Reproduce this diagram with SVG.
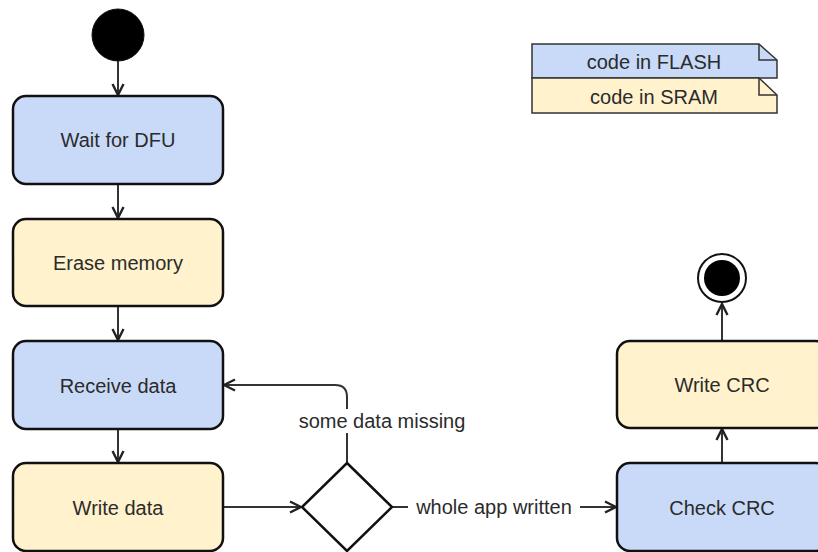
<svg xmlns="http://www.w3.org/2000/svg" width="818" height="552" viewBox="0 0 818 552">
  <style>
    .flash { fill: #c9daf8; stroke: #111; stroke-width: 2.5; }
    .sram { fill: #fff2cc; stroke: #111; stroke-width: 2.5; }
    .note-flash { fill: #c9daf8; stroke: #333; stroke-width: 1.5; }
    .note-sram { fill: #fff2cc; stroke: #333; stroke-width: 1.5; }
    .label { font-family: "Liberation Sans", Arial, sans-serif; font-size: 20px; fill: #2b2b2b; text-anchor: middle; }
    .edge { fill: none; stroke: #333; stroke-width: 2; }
    .bg { fill: #fff; }
  </style>
  <defs>
    <marker id="arrow" viewBox="0 0 14 14" refX="13" refY="7" markerWidth="14" markerHeight="14" markerUnits="userSpaceOnUse" orient="auto">
      <path d="M2,1.5 L13,7 L2,12.5" fill="none" stroke="#222" stroke-width="2.4"/>
    </marker>
  </defs>

  <rect width="818" height="552" fill="#fff"/>

  <!-- legend -->
  <g id="legend-flash">
    <path class="note-flash" d="M532,44 H759 L777,60 V78 H532 Z"/>
    <path d="M759,44 V60 H777" fill="none" stroke="#333" stroke-width="1.5"/>
    <text class="label" x="654" y="69">code in FLASH</text>
  </g>
  <g id="legend-sram">
    <path class="note-sram" d="M532,78 H759 L777,95 V113 H532 Z"/>
    <path d="M759,78 V95 H777" fill="none" stroke="#333" stroke-width="1.5"/>
    <text class="label" x="654" y="104">code in SRAM</text>
  </g>

  <!-- connectors -->
  <g id="connectors">
    <path class="edge" d="M118,61 V95" marker-end="url(#arrow)"/>
    <path class="edge" d="M118,184 V218" marker-end="url(#arrow)"/>
    <path class="edge" d="M118,306 V340" marker-end="url(#arrow)"/>
    <path class="edge" d="M118,429 V462" marker-end="url(#arrow)"/>
    <path class="edge" d="M223,507 H301" marker-end="url(#arrow)"/>
    <path class="edge" d="M347,463 V397 Q347,385 335,385 H224" marker-end="url(#arrow)"/>
    <path class="edge" d="M392,507 H616" marker-end="url(#arrow)"/>
    <path class="edge" d="M722,463 V429" marker-end="url(#arrow)"/>
    <path class="edge" d="M722,341 V304" marker-end="url(#arrow)"/>
    <rect class="bg" x="292" y="409" width="180" height="24"/>
    <text class="label" x="382" y="428">some data missing</text>
    <rect class="bg" x="408" y="495" width="172" height="24"/>
    <text class="label" x="494" y="514">whole app written</text>
  </g>

  <!-- nodes -->
  <g id="start">
    <circle cx="118" cy="35" r="26" fill="#000" stroke="#111" stroke-width="1"/>
  </g>
  <g id="wait-dfu">
    <rect class="flash" x="13" y="96" width="210" height="88" rx="13"/>
    <text class="label" x="118" y="147">Wait for DFU</text>
  </g>
  <g id="erase-memory">
    <rect class="sram" x="13" y="219" width="210" height="87" rx="13"/>
    <text class="label" x="118" y="270">Erase memory</text>
  </g>
  <g id="receive-data">
    <rect class="flash" x="13" y="341" width="210" height="88" rx="13"/>
    <text class="label" x="118" y="393">Receive data</text>
  </g>
  <g id="write-data">
    <rect class="sram" x="13" y="463" width="210" height="88" rx="13"/>
    <text class="label" x="118" y="515">Write data</text>
  </g>
  <g id="decision">
    <path d="M347,463 L392,507 L347,551 L302,507 Z" fill="#fff" stroke="#111" stroke-width="2.5"/>
  </g>
  <g id="check-crc">
    <rect class="flash" x="617" y="463" width="212" height="88" rx="13"/>
    <text class="label" x="722" y="515">Check CRC</text>
  </g>
  <g id="write-crc">
    <rect class="sram" x="617" y="341" width="212" height="87" rx="13"/>
    <text class="label" x="722" y="392">Write CRC</text>
  </g>
  <g id="end">
    <circle cx="722" cy="278" r="24" fill="#fff" stroke="#111" stroke-width="2"/>
    <circle cx="722" cy="278" r="18" fill="#000"/>
  </g>
</svg>
